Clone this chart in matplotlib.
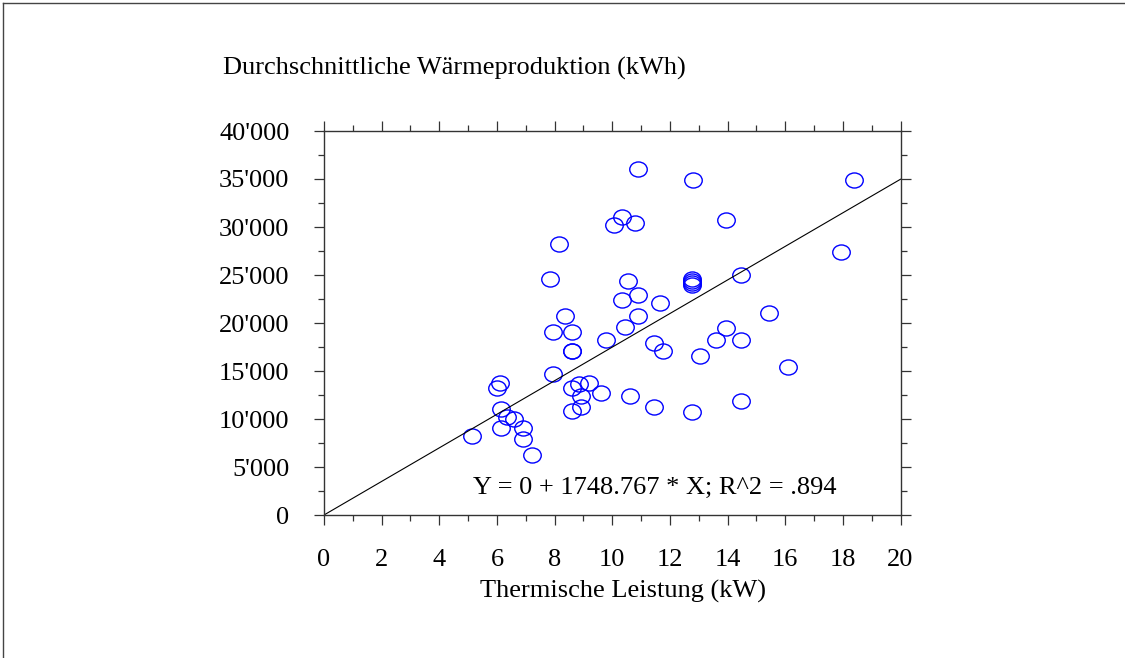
import matplotlib
matplotlib.use("Agg")
import matplotlib.pyplot as plt
from matplotlib.path import Path
from matplotlib.transforms import Affine2D
from matplotlib.lines import Line2D
from matplotlib.ticker import MultipleLocator, FuncFormatter

plt.rcParams['font.family'] = ['Liberation Serif', 'DejaVu Serif']

# Thermal output (kW) and mean annual heat production (kWh)
leistung_kw = [10.9, 12.8, 18.4, 10.35, 10.05, 10.8, 13.95, 8.15, 17.95, 7.85,
               12.75, 12.75, 12.75, 12.75, 10.55, 14.45, 10.9, 10.35, 11.65, 8.35,
               15.45, 10.9, 10.45, 13.95, 7.95, 8.6, 9.8, 11.45, 11.75, 13.6,
               14.45, 13.05, 16.1, 8.6, 8.62, 7.95, 6.1, 6.0, 8.6, 8.85,
               9.2, 8.9, 9.6, 10.6, 8.9, 8.6, 6.15, 6.35, 6.6, 6.9,
               6.15, 6.9, 5.15, 7.2, 11.45, 12.75, 14.45]
waerme_kwh = [36000, 34900, 34900, 31000, 30200, 30450, 30750, 28250, 27400, 24600,
              24000, 24200, 24400, 24600, 24350, 24950, 22950, 22400, 22100, 20750,
              21000, 20750, 19600, 19450, 19050, 19050, 18250, 17950, 17100, 18250,
              18250, 16550, 15450, 17100, 17050, 14650, 13800, 13200, 13250, 13600,
              13800, 12400, 12700, 12400, 11300, 10850, 11000, 10200, 10000, 9100,
              9100, 7950, 8250, 6300, 11250, 10750, 11850]

slope = 1748.767
intercept = 0.0
r_squared = ".894"
x_range = [0, 20]
y_range = [0, 40000]

title_text = "Durchschnittliche Wärmeproduktion (kWh)"
x_label = "Thermische Leistung (kW)"

FS = 19

fig = plt.figure(figsize=(11.25, 6.58), dpi=100)
W, H = 1125, 658
ax = fig.add_axes([324 / W, 1 - 515 / H, (900.5 - 324) / W, (515 - 131) / H])

# elliptical open marker, slightly wider than tall
ellipse = Path.unit_circle().transformed(Affine2D().scale(1.0, 0.86))
ax.plot(leistung_kw, waerme_kwh, linestyle='none', marker=ellipse,
        markersize=12.6, markerfacecolor='none', markeredgecolor='#0000ff',
        markeredgewidth=1.0, clip_on=False)

# regression line through origin
fit_x = x_range
fit_y = [intercept + slope * v for v in fit_x]
ax.plot(fit_x, fit_y, color='black', linewidth=0.8)

ax.text(11.48, 2156, f"Y = {intercept:g} + {slope} * X; R^2 = {r_squared}",
        ha='center', va='baseline', fontsize=FS)

ax.set_xlim(*x_range)
ax.set_ylim(*y_range)
ax.xaxis.set_major_locator(MultipleLocator(2))
ax.xaxis.set_minor_locator(MultipleLocator(1))
ax.yaxis.set_major_locator(MultipleLocator(5000))
ax.yaxis.set_minor_locator(MultipleLocator(2500))
ax.yaxis.set_major_formatter(FuncFormatter(lambda v, p: f"{int(v):,}".replace(",", "'")))

ax.tick_params(which='both', direction='out', top=True, right=True,
               labeltop=False, labelright=False, width=0.9, color='#333333')
ax.tick_params(which='major', length=7.5)
ax.tick_params(which='minor', length=4.3)
ax.tick_params(axis='x', which='major', labelsize=FS, pad=16.8)
ax.tick_params(axis='y', which='major', labelsize=FS, pad=17.3)
for s in ax.spines.values():
    s.set_linewidth(1.0)
    s.set_color('#333333')

fig.text(623.3 / W, 1 - 597.3 / H, x_label, ha='center', va='baseline', fontsize=FS)
fig.text(223 / W, 1 - 74.3 / H, title_text, ha='left', va='baseline', fontsize=FS)

# outer frame of the figure
fig.add_artist(Line2D([3 / W, 3 / W], [0, 1 - 3 / H], transform=fig.transFigure,
                      color='#444444', linewidth=1.0))
fig.add_artist(Line2D([3 / W, 1], [1 - 3 / H, 1 - 3 / H], transform=fig.transFigure,
                      color='#444444', linewidth=1.0))

fig.savefig("out.png", dpi=100)
